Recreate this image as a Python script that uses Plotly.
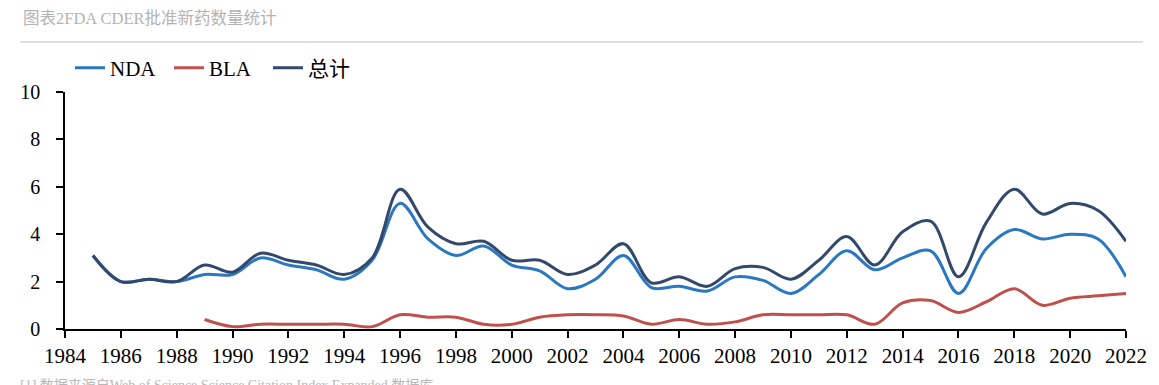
import plotly.graph_objects as go

years = list(range(1985, 2023))
nda = [3.1, 2.0, 2.1, 2.0, 2.3, 2.3, 3.0, 2.7, 2.5, 2.1, 2.9, 5.3, 3.8, 3.1, 3.5, 2.7,
       2.45, 1.7, 2.1, 3.1, 1.75, 1.8, 1.6, 2.2, 2.05, 1.5, 2.3, 3.3, 2.5, 3.0, 3.3, 1.5,
       3.4, 4.2, 3.8, 4.0, 3.8, 2.2]
bla_years = list(range(1989, 2023))
bla = [0.4, 0.1, 0.2, 0.2, 0.2, 0.2, 0.1, 0.6, 0.5, 0.5, 0.2, 0.2, 0.5, 0.6, 0.6, 0.55,
       0.2, 0.4, 0.2, 0.3, 0.6, 0.6, 0.6, 0.6, 0.2, 1.1, 1.2, 0.7, 1.15, 1.7, 1.0, 1.3,
       1.4, 1.5]
total = [3.1, 2.0, 2.1, 2.0, 2.7, 2.4, 3.2, 2.9, 2.7, 2.3, 3.0, 5.9, 4.3, 3.6, 3.7, 2.9,
         2.9, 2.3, 2.7, 3.6, 1.95, 2.2, 1.8, 2.55, 2.6, 2.1, 2.9, 3.9, 2.7, 4.1, 4.55, 2.2,
         4.5, 5.9, 4.85, 5.3, 5.0, 3.7]

x_ticks = list(range(1984, 2023, 2))
y_ticks = [0, 2, 4, 6, 8, 10]

title_text = "图表2FDA CDER批准新药数量统计"
source_text = "[1] 数据来源自Web of Science Science Citation Index Expanded 数据库"

OFF = 8  # page body margin
W, H = 1159 - OFF, 385 - OFF
# target plot area in screen pixels
SX0, SX1, SY0, SY1 = 61, 1126, 92, 329
L = SX0 - OFF
R = W - (SX1 - OFF)
T = SY0 - OFF
B = H - (SY1 - OFF)
ph = SY1 - SY0
pw = SX1 - SX0

def py(sy):
    return (SY1 - sy) / ph

def px(sx):
    return (sx - SX0) / pw

fig = go.Figure()
fig.add_trace(go.Scatter(x=years, y=nda, name="NDA", mode="lines",
                         line=dict(color="#2a78c2", width=3, shape="spline", smoothing=1)))
fig.add_trace(go.Scatter(x=bla_years, y=bla, name="BLA", mode="lines",
                         line=dict(color="#c0504d", width=3, shape="spline", smoothing=1)))
fig.add_trace(go.Scatter(x=years, y=total, name="总计", mode="lines",
                         line=dict(color="#33496b", width=3, shape="spline", smoothing=1)))

serif = "Liberation Serif, Times New Roman, Noto Sans CJK SC, serif"

fig.update_layout(
    width=W, height=H,
    margin=dict(l=L, r=R, t=T, b=B),
    paper_bgcolor="white", plot_bgcolor="white",
    font=dict(family=serif, color="#000000"),
    showlegend=True,
    legend=dict(orientation="h", x=px(66), y=py(68), xanchor="left", yanchor="middle",
                font=dict(size=21, family=serif, color="#000"), bgcolor="rgba(0,0,0,0)",
                itemwidth=30, tracegroupgap=0, entrywidth=54, entrywidthmode="pixels"),
    xaxis=dict(range=[1984, 2022], tickmode="array", tickvals=x_ticks,
               ticktext=[str(v) for v in x_ticks],
               showgrid=False, zeroline=False, showline=True, linecolor="#000", linewidth=1.5,
               ticks="outside", ticklen=7, tickwidth=1.5, tickcolor="#000",
               tickfont=dict(size=21, family=serif, color="#000"), ticklabelstandoff=0),
    yaxis=dict(range=[0, 10], tickmode="array", tickvals=y_ticks,
               showgrid=False, zeroline=False, showline=True, linecolor="#000", linewidth=1.5,
               ticks="outside", ticklen=7, tickwidth=1.5, tickcolor="#000",
               tickfont=dict(size=20, family=serif, color="#000"), ticklabelstandoff=12),
)

fig.add_annotation(text=title_text, xref="paper", yref="paper", x=px(17), y=py(18),
                   xanchor="left", yanchor="middle", showarrow=False,
                   font=dict(size=16.5, family=serif, color="#b3b3b3"))
fig.add_annotation(text=source_text, xref="paper", yref="paper", x=px(14), y=py(376),
                   xanchor="left", yanchor="top", showarrow=False,
                   font=dict(size=14, family=serif, color="#b8b8b8"))
fig.add_shape(type="line", xref="paper", yref="paper", x0=px(16), x1=px(1143),
              y0=py(42), y1=py(42), line=dict(color="#d4d4d4", width=1.5))

fig.write_html("out.html")
